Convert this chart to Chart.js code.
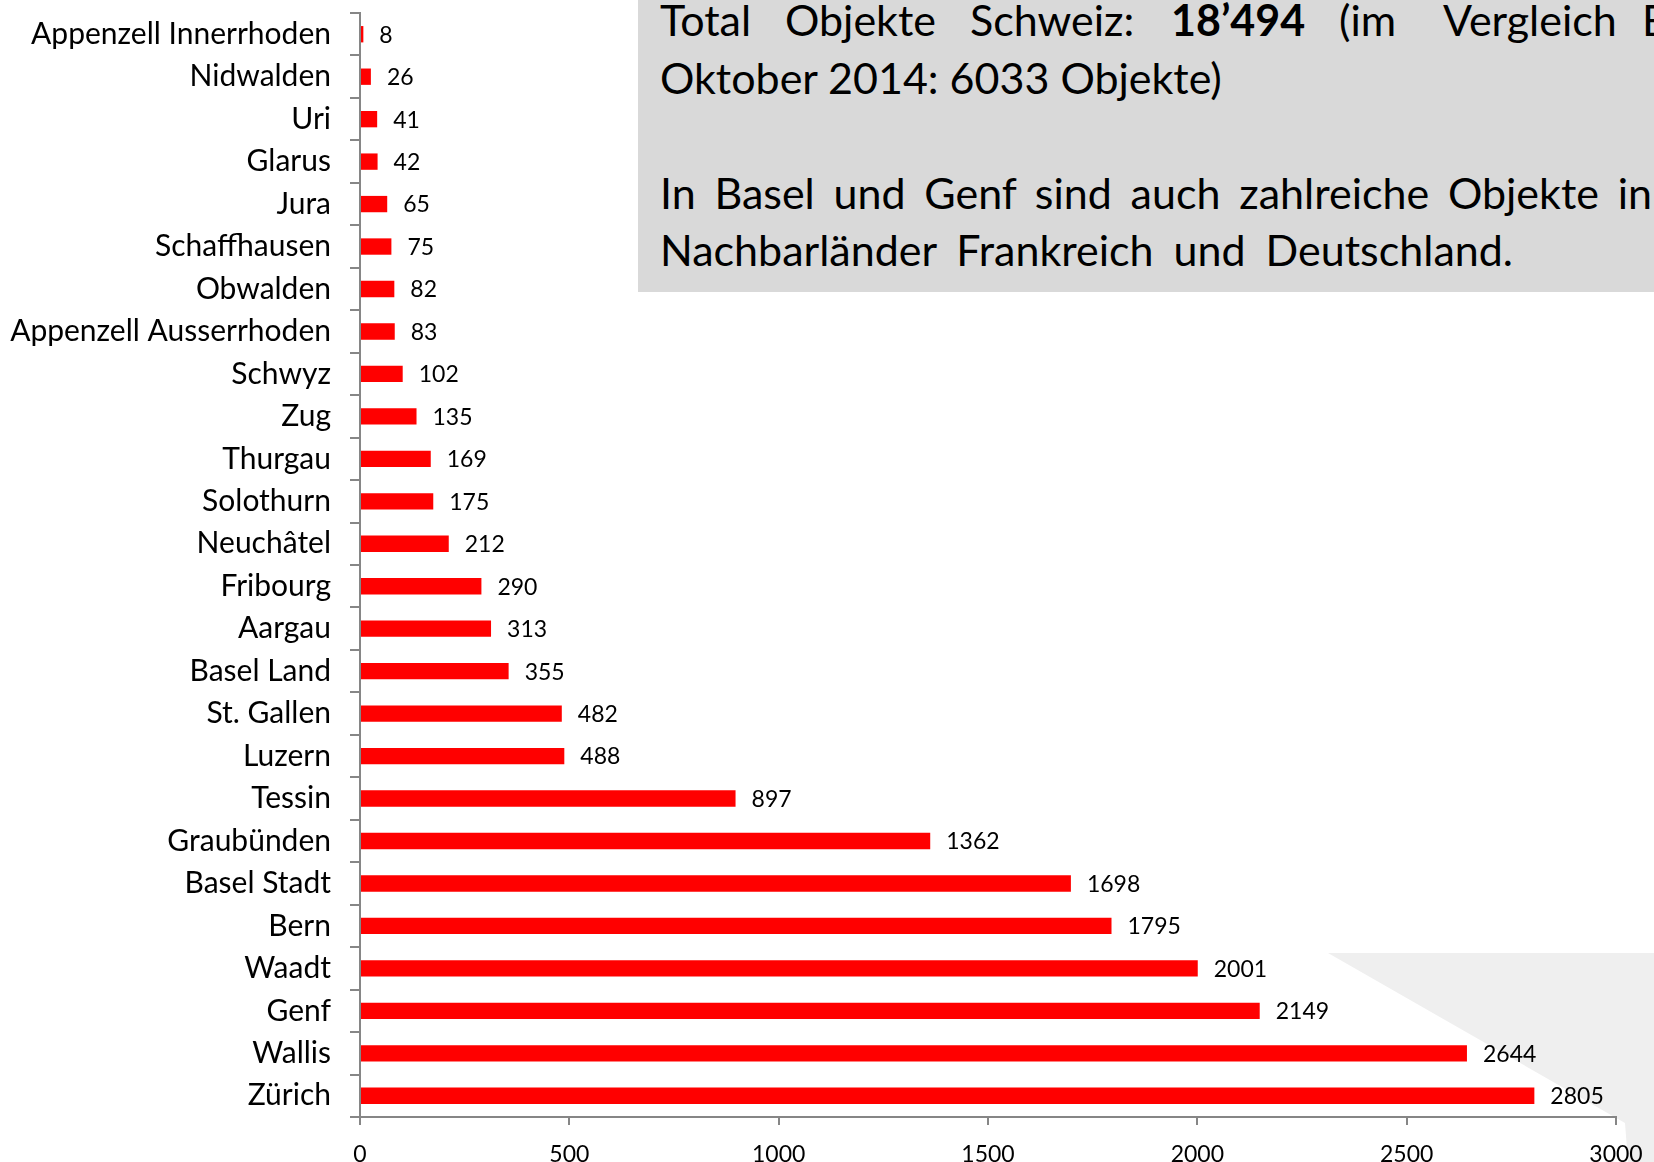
<!DOCTYPE html>
<html>
<head>
<meta charset="utf-8">
<script src="https://cdn.jsdelivr.net/npm/chart.js@4"></script>
<style>
  html, body { margin: 0; padding: 0; background: #fff; width: 1654px; height: 1162px; overflow: hidden; }
  #wrap { position: relative; width: 1654px; height: 1162px; }
  #tri { position: absolute; left: 0; top: 0; }
  #c { position: absolute; left: 0; top: 0; }
  #box { position: absolute; left: 638px; top: 0; width: 1016px; height: 292px; background: #d9d9d9; overflow: hidden;
         font-family: Lato, "Liberation Sans", sans-serif; font-size: 43px; color: #000; }
  .ln { position: absolute; white-space: nowrap; line-height: 1; }
  .w { position: absolute; white-space: nowrap; }
  .just { white-space: normal; text-align: justify; text-align-last: justify; width: 992px; }
</style>
</head>
<body>
<div id="wrap">
  <svg id="tri" width="1654" height="1162"><polygon points="1328,953 1654,953 1654,1162 1628,1162 1625,1123" fill="#efefef"/></svg>
  <div id="box">
    <div class="ln" style="top:-2px;left:0;">
      <span class="w" style="left:22px">Total</span>
      <span class="w" style="left:147px">Objekte</span>
      <span class="w" style="left:332px">Schweiz:</span>
      <span class="w" style="left:533px;font-weight:bold">18’494</span>
      <span class="w" style="left:701px">(im</span>
      <span class="w" style="left:805px">Vergleich</span>
      <span class="w" style="left:1004px">Ende</span>
    </div>
    <div class="ln" style="top:56px;left:22px;">Oktober 2014: 6033 Objekte)</div>
    <div class="ln just" style="top:171px;left:22px;">In Basel und Genf sind auch zahlreiche Objekte in</div>
    <div class="ln" style="top:228px;left:22px;word-spacing:9px;">Nachbarländer Frankreich und Deutschland.</div>
  </div>
  <canvas id="c" width="1654" height="1162"></canvas>
</div>
<script>
const categories = ["Appenzell Innerrhoden","Nidwalden","Uri","Glarus","Jura","Schaffhausen","Obwalden","Appenzell Ausserrhoden","Schwyz","Zug","Thurgau","Solothurn","Neuchâtel","Fribourg","Aargau","Basel Land","St. Gallen","Luzern","Tessin","Graubünden","Basel Stadt","Bern","Waadt","Genf","Wallis","Zürich"];
const objekte = [8,26,41,42,65,75,82,83,102,135,169,175,212,290,313,355,482,488,897,1362,1698,1795,2001,2149,2644,2805];
const xTicks = [0,500,1000,1500,2000,2500,3000];

const AXIS = '#868686';
const FONT = 'Lato, "Liberation Sans", sans-serif';

const valueLabels = {
  id: 'valueLabels',
  afterDatasetsDraw(chart) {
    const ctx = chart.ctx;
    const meta = chart.getDatasetMeta(0);
    ctx.save();
    ctx.font = '23px ' + FONT;
    ctx.fillStyle = '#000';
    ctx.textAlign = 'left';
    ctx.textBaseline = 'middle';
    meta.data.forEach((bar, i) => {
      ctx.fillText(String(chart.data.datasets[0].data[i]), bar.x + 16, bar.y + 1);
    });
    ctx.restore();
  }
};

new Chart(document.getElementById('c'), {
  type: 'bar',
  data: {
    labels: categories,
    datasets: [{
      data: objekte,
      backgroundColor: '#ff0000',
      borderWidth: 0,
      categoryPercentage: 1,
      barPercentage: 0.385
    }]
  },
  options: {
    indexAxis: 'y',
    responsive: false,
    animation: false,
    devicePixelRatio: 1,
    layout: { padding: { left: 0, top: 13, right: 38, bottom: 0 } },
    plugins: { legend: { display: false }, tooltip: { enabled: false }, title: { display: false } },
    scales: {
      y: {
        type: 'category',
        grid: { display: true, drawOnChartArea: false, offset: true, color: AXIS, tickLength: 10, lineWidth: 2 },
        border: { display: true, color: AXIS, width: 2 },
        ticks: { color: '#000', font: { family: FONT, size: 30 }, padding: 19, autoSkip: false },
        afterFit(scale) { scale.width = 360; scale.paddingTop = 0; scale.paddingBottom = 0; }
      },
      x: {
        type: 'linear',
        min: 0, max: 3000,
        afterBuildTicks(scale) { scale.ticks = xTicks.map(v => ({ value: v })); },
        grid: { display: true, drawOnChartArea: false, color: AXIS, tickLength: 8, lineWidth: 2 },
        border: { display: true, color: AXIS, width: 2 },
        ticks: { color: '#000', font: { family: FONT, size: 23 }, padding: 16, maxRotation: 0,
                 callback: (v) => String(v) },
        afterFit(scale) { scale.height = 45; scale.paddingLeft = 0; scale.paddingRight = 0; }
      }
    }
  },
  plugins: [valueLabels]
});
</script>
</body>
</html>
